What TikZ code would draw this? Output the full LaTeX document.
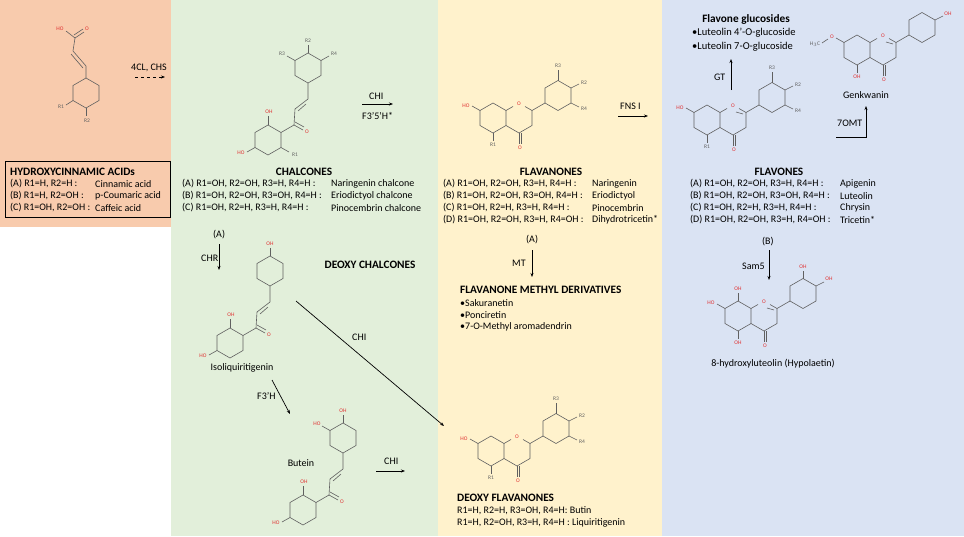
\documentclass[tikz,border=0pt]{standalone}
\usepackage{fontspec}
\setmainfont{Carlito}
\usetikzlibrary{arrows.meta}
\definecolor{porange}{HTML}{F8CBAD}
\definecolor{pgreen}{HTML}{E2EFDA}
\definecolor{pyellow}{HTML}{FFF2CC}
\definecolor{pblue}{HTML}{DAE3F3}
\definecolor{bondc}{HTML}{606060}
\definecolor{oxr}{HTML}{E03030}
\tikzset{
 bond/.style={draw=bondc,line width=0.6pt},
 lab/.style={font=\fontsize{5.5}{6}\selectfont,inner sep=0.5pt,text=bondc},
 olab/.style={font=\fontsize{5.5}{6}\selectfont,inner sep=0.5pt,text=oxr},
 txt/.style={font=\fontsize{10}{12}\selectfont,anchor=west,inner sep=0pt},
 ttl/.style={font=\fontsize{11.3}{12}\selectfont\bfseries,inner sep=0pt},
 arr/.style={-{Stealth[length=4pt,width=3pt]},line width=0.7pt},
}
\newcommand\hexa[2]{\draw[bond] (#1,#2-15)--(#1+13,#2-7.5)--(#1+13,#2+7.5)--(#1,#2+15)--(#1-13,#2+7.5)--(#1-13,#2-7.5)--cycle;}
\newcommand\chalsk{%
 \hexa{0}{0}\hexa{40}{-72}
 \draw[bond] (13,-7.5)--(26,-15)--(27,-31)--(40,-41)--(40,-57);
 \draw[bond] (30,-29)--(38,-36);
 \draw[bond] (26,-15)--(35,-10);\draw[bond] (27,-18)--(36,-13);
 \node[olab] at (39,-8) {O};
 \draw[bond] (0,-15)--(0,-24);\node[olab] at (1,-28) {OH};
 \draw[bond] (-13,7.5)--(-21,12);\node[olab] at (-27,13) {HO};}
\newcommand\flavsk{%
 \hexa{0}{0}
 \draw[bond] (13,-7.5)--(20,-11.5);\draw[bond] (32,-11.5)--(39,-7.5)--(39,7.5)--(26,15)--(13,7.5);
 \node[olab] at (26,-14) {O};
 \draw[bond] (39,-7.5)--(52,-15);
 \hexa{65}{-22.5}
 \draw[bond] (26,15)--(26,26);\draw[bond] (28.5,15)--(28.5,26);\node[olab] at (27,30) {O};}
\newcommand\rsubs{%
 \draw[bond] (65,-37.5)--(65,-48);\node[lab] at (65,-52) {R3};
 \draw[bond] (78,-30)--(86,-34);\node[lab] at (91,-35) {R2};
 \draw[bond] (78,-15)--(86,-11);\node[lab] at (91,-9) {R4};
 \draw[bond] (0,15)--(0,23);\node[lab] at (0,27) {R1};
 \draw[bond] (-13,-7.5)--(-21,-12);\node[olab] at (-27,-12) {HO};}
\begin{document}
\begin{tikzpicture}[x=1pt,y=-1pt]
\useasboundingbox (0,0) rectangle (964,536);
\fill[white] (0,0) rectangle (964,536);
\fill[porange] (0,0) rectangle (171,227);
\fill[pgreen] (171,0) rectangle (438,536);
\fill[pyellow] (438,0) rectangle (662,536);
\fill[pblue] (662,0) rectangle (964,536);
% cinnamic acid
\hexa{86}{93}
\draw[bond] (86,78)--(86,66)--(73,51)--(75,38);
\draw[bond] (83,68)--(71,54);
\draw[bond] (75,38)--(66,31);\node[olab] at (60,29) {HO};
\draw[bond] (75,38)--(84,32);\draw[bond] (74,35)--(83,29);\node[olab] at (87,29) {O};
\draw[bond] (73,100.5)--(66,105);\node[lab] at (61,107) {R1};
\draw[bond] (86,108)--(86,116);\node[lab] at (87,121) {R2};
\draw[line width=0.7pt] (5,161) rectangle (170,217);
\node[ttl,anchor=west] (hca) at (10,172) {HYDROXYCINNAMIC ACIDs};
\node[txt] (hcaA) at (10,184) {(A) R1=H, R2=H :};\node[txt] at (95,184) {Cinnamic acid};
\node[txt] (hcaB) at (10,196) {(B) R1=H, R2=OH :};\node[txt] at (95,196) {p-Coumaric acid};
\node[txt] (hcaC) at (10,208) {(C) R1=OH, R2=OH :};\node[txt] at (95,208) {Caffeic acid};
% 4CL CHS
\node[txt] (cl) at (131,68) {4CL, CHS};
\coordinate (a1s) at (135,77);\coordinate (a1e) at (165,77);
\draw[arr,dashed] (a1s)--(a1e);
% chalcone
\begin{scope}[shift={(268,140)}]
\chalsk
\draw[bond] (13,7.5)--(21,12);\node[lab] at (27,15) {R1};
\draw[bond] (27,-79.5)--(19,-84);\node[lab] at (14,-86) {R3};
\draw[bond] (40,-87)--(40,-95);\node[lab] at (40,-99) {R2};
\draw[bond] (53,-79.5)--(61,-84);\node[lab] at (66,-86) {R4};
\end{scope}
\node[ttl] (chal) at (304,172) {CHALCONES};
\node[txt] at (182,184) {(A) R1=OH, R2=OH, R3=H, R4=H :};\node[txt] at (331,184) {Naringenin chalcone};
\node[txt] at (182,196) {(B) R1=OH, R2=OH, R3=OH, R4=H :};\node[txt] at (331,196) {Eriodictyol chalcone};
\node[txt] at (182,208) {(C) R1=OH, R2=H, R3=H, R4=H :};\node[txt] at (331,208) {Pinocembrin chalcone};
% CHI F3'5'H
\node[txt] at (369,96) {CHI};\node[txt] at (362,116) {F3’5’H*};
\coordinate (a2s) at (362,104);\coordinate (a2e) at (393,104);
\draw[arr] (a2s)--(a2e);
% flavanone
\begin{scope}[shift={(493,118)}]
\flavsk\rsubs
\end{scope}
\node[ttl] (flvn) at (551,172) {FLAVANONES};
\node[txt] at (443,184) {(A) R1=OH, R2=OH, R3=H, R4=H :};\node[txt] at (592,184) {Naringenin};
\node[txt] at (443,196) {(B) R1=OH, R2=OH, R3=OH, R4=H :};\node[txt] at (592,196) {Eriodictyol};
\node[txt] at (443,208) {(C) R1=OH, R2=H, R3=H, R4=H :};\node[txt] at (592,208) {Pinocembrin};
\node[txt] at (443,220) {(D) R1=OH, R2=OH, R3=H, R4=OH :};\node[txt] at (592,220) {Dihydrotricetin*};
% FNS I
\node[txt] at (620,106) {FNS I};
\coordinate (a3s) at (618,116);\coordinate (a3e) at (648,116);
\draw[arr] (a3s)--(a3e);
% flavone
\begin{scope}[shift={(707,120)}]
\flavsk\rsubs
\draw[bond] (29,-8)--(36,-6);
\end{scope}
\node[ttl] (flvo) at (779,172) {FLAVONES};
\node[txt] at (690,184) {(A) R1=OH, R2=OH, R3=H, R4=H :};\node[txt] at (840,184) {Apigenin};
\node[txt] at (690,196) {(B) R1=OH, R2=OH, R3=OH, R4=H :};\node[txt] at (840,196) {Luteolin};
\node[txt] at (690,208) {(C) R1=OH, R2=H, R3=H, R4=H :};\node[txt] at (840,208) {Chrysin};
\node[txt] at (690,220) {(D) R1=OH, R2=OH, R3=H, R4=OH :};\node[txt] at (840,220) {Tricetin*};
% glucosides
\node[ttl] (glu) at (746,19) {Flavone glucosides};
\node[txt,font=\fontsize{10.5}{12}\selectfont] at (692,33) {•Luteolin 4’-O-glucoside};
\node[txt,font=\fontsize{10.5}{12}\selectfont] at (692,47) {•Luteolin 7-O-glucoside};
\node[txt] at (714,77) {GT};
\coordinate (a4s) at (731,90);\coordinate (a4e) at (731,59);
\draw[arr] (a4s)--(a4e);
% genkwanin
\begin{scope}[shift={(857,50)}]
\flavsk
\draw[bond] (29,-8)--(36,-6);
\draw[bond] (-13,-7.5)--(-21,-12);\node[olab] at (-25,-13) {O};\draw[bond] (-29,-11)--(-35,-7);
\node[lab] at (-42,-6) {H$_3$C};
\draw[bond] (0,15)--(0,23);\node[olab] at (0,27) {OH};
\draw[bond] (78,-30)--(86,-34);\node[olab] at (91,-36) {OH};
\end{scope}
\node[txt,anchor=center] (genk) at (866,95) {Genkwanin};
\node[txt] at (837,123) {7OMT};
\coordinate (a5s) at (836,137);\coordinate (a5m) at (866,137);\coordinate (a5e) at (866,106);
\draw[arr] (a5s)--(a5m)--(a5e);
% hypolaetin
\node[txt] at (762,242) {(B)};\node[txt] at (742,266) {Sam5};
\coordinate (a6s) at (769,250);\coordinate (a6e) at (769,280);
\draw[arr] (a6s)--(a6e);
\begin{scope}[shift={(738,316)}]
\flavsk
\draw[bond] (29,-8)--(36,-6);
\draw[bond] (-13,-7.5)--(-21,-12);\node[olab] at (-27,-13) {HO};
\draw[bond] (0,-15)--(0,-23);\node[olab] at (0,-27) {OH};
\draw[bond] (0,15)--(0,23);\node[olab] at (0,27) {OH};
\draw[bond] (78,-30)--(86,-34);\node[olab] at (91,-37) {OH};
\draw[bond] (65,-37.5)--(65,-45);\node[olab] at (65,-49) {OH};
\end{scope}
\node[txt,anchor=center] (hypo) at (773,364) {8-hydroxyluteolin (Hypolaetin)};
% flavanone methyl
\node[txt] at (526,240) {(A)};\node[txt] at (512,263) {MT};
\coordinate (a7s) at (532,250);\coordinate (a7e) at (532,277);
\draw[arr] (a7s)--(a7e);
\node[ttl,anchor=west] (fmd) at (460,290) {FLAVANONE METHYL DERIVATIVES};
\node[txt] at (460,303) {•Sakuranetin};
\node[txt] at (460,315) {•Ponciretin};
\node[txt] at (460,327) {•7-O-Methyl aromadendrin};
% deoxy flavanone
\begin{scope}[shift={(491,451)}]
\flavsk\rsubs
\end{scope}
\node[ttl,anchor=west] (dfl) at (457,498) {DEOXY FLAVANONES};
\node[txt] at (457,511) {R1=H, R2=H, R3=OH, R4=H: Butin};
\node[txt] at (457,523) {R1=H, R2=OH, R3=H, R4=H : Liquiritigenin};
% deoxy chalcones
\node[txt] at (213,235) {(A)};\node[txt] at (201,258) {CHR};
\coordinate (a8s) at (219,244);\coordinate (a8e) at (219,270);
\draw[arr] (a8s)--(a8e);
\node[ttl] (dch) at (370,265) {DEOXY CHALCONES};
\begin{scope}[shift={(230,343)}]
\chalsk
\draw[bond] (40,-87)--(40,-95);\node[olab] at (40,-99) {OH};
\end{scope}
\node[txt,anchor=center] (iso) at (242,368) {Isoliquiritigenin};
\node[txt] at (257,396) {F3’H};
\coordinate (a9s) at (272,380);\coordinate (a9e) at (290,414);
\draw[arr] (a9s)--(a9e);
\begin{scope}[shift={(303,510)}]
\chalsk
\draw[bond] (27,-79.5)--(19,-84);\node[olab] at (14,-86) {HO};
\draw[bond] (40,-87)--(40,-95);\node[olab] at (40,-99) {OH};
\end{scope}
\node[txt,anchor=center] (but) at (301,463) {Butein};
\node[txt] at (384,461) {CHI};
\coordinate (a10s) at (376,471);\coordinate (a10e) at (405,471);
\draw[arr] (a10s)--(a10e);
\node[txt] at (352,337) {CHI};
\coordinate (a11s) at (296,301);\coordinate (a11e) at (444,426);
\draw[arr] (a11s)--(a11e);
\end{tikzpicture}
\end{document}
